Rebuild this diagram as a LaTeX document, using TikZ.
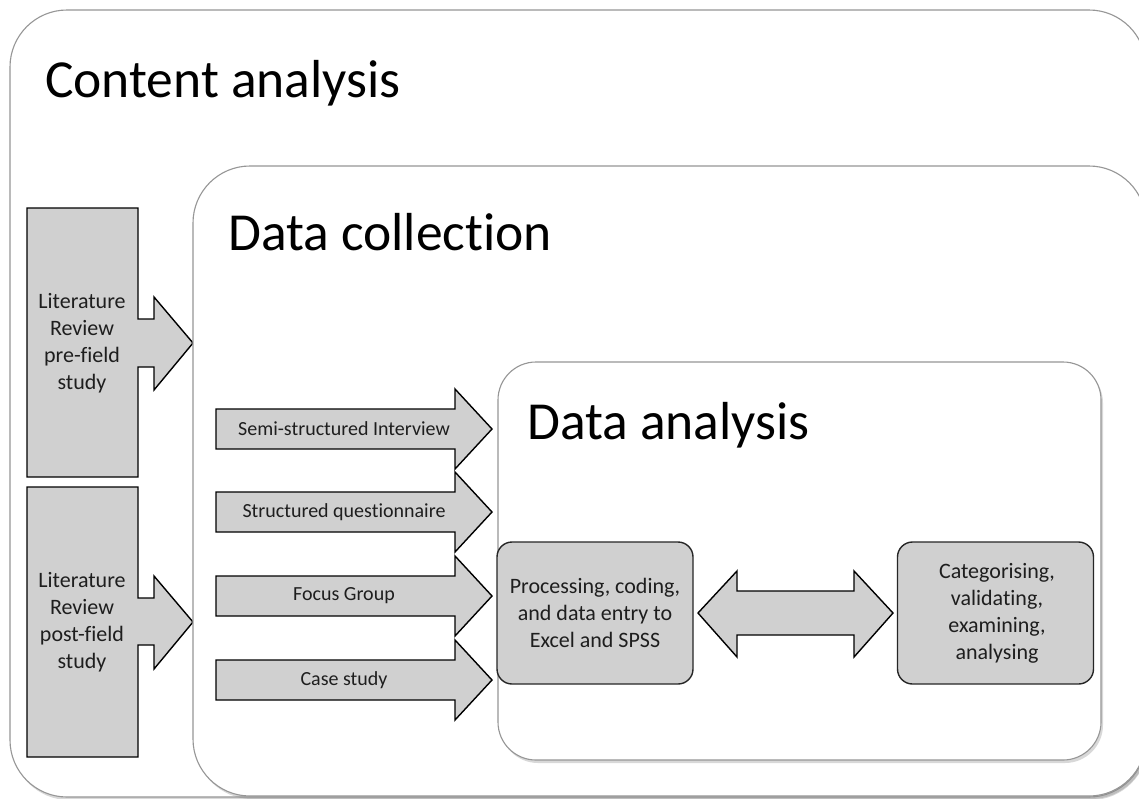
\documentclass[tikz,border=0pt]{standalone}
\usepackage{fontspec}
\setmainfont{Carlito}[Ligatures=NoCommon]
\usetikzlibrary{shadows}
\definecolor{boxgray}{RGB}{208,208,208}
\definecolor{framegray}{RGB}{150,150,150}
\definecolor{txtgray}{RGB}{30,30,30}
\begin{document}
\begin{tikzpicture}[x=1pt,y=-1pt,
  container/.style={draw=framegray, line width=1.1pt, fill=white,
    drop shadow={shadow xshift=2pt, shadow yshift=-3pt, opacity=0.3}},
  blockarrow/.style={fill=boxgray, draw=black, line width=1.4pt, line join=miter},
  procbox/.style={fill=boxgray, draw=black!85, line width=1.4pt, rounded corners=15pt,
    minimum width=196pt, minimum height=142pt, inner sep=0pt},
  title/.style={anchor=base west, font=\fontsize{53.5}{60}\selectfont, text=black, inner sep=0pt},
  smalltxt/.style={font=\fontsize{20}{24}\selectfont, text=txtgray, inner sep=0pt},
  midtxt/.style={font=\fontsize{22}{27}\selectfont, text=txtgray, align=center, inner sep=0pt}
]
\clip (0,0) rectangle (1139,798);
\fill[white] (0,0) rectangle (1139,798);

% outer container
\path[container, rounded corners=57pt] (10,10) rectangle (1146,797);
\node[title] (tca) at (45,97) {Content analysis};

% left block arrows
\path[blockarrow] (27,208) -- (138,208) -- (138,319) -- (154,319) -- (154,297)
  -- (193,343) -- (154,390) -- (154,367) -- (138,367) -- (138,477) -- (27,477) -- cycle;
\path[blockarrow] (27,487) -- (138,487) -- (138,598) -- (154,598) -- (154,576)
  -- (193,622) -- (154,669) -- (154,645) -- (138,645) -- (138,757) -- (27,757) -- cycle;
\node[midtxt] (lit1) at (82,343) {Literature\\Review\\pre-field\\study};
\node[midtxt] (lit2) at (82,622) {Literature\\Review\\post-field\\study};

% data collection container
\path[container, rounded corners=57pt] (193,166) rectangle (1146,796);
\node[title] (tdc) at (228,250) {Data collection};

% middle block arrows
\foreach \c in {429,512,596,680}{
  \path[blockarrow] (216,\c-20) -- (455,\c-20) -- (455,\c-40) -- (492,\c)
    -- (455,\c+40) -- (455,\c+20) -- (216,\c+20) -- cycle;
}
\node[smalltxt] (semi) at (344,429) {Semi-structured Interview};
\node[smalltxt] (quest) at (344,512) {Structured questionnaire};
\node[smalltxt] (focus) at (344,596) {Focus Group};
\node[smalltxt] (case) at (344,680) {Case study};

% data analysis container
\path[container, rounded corners=38pt] (498,362) rectangle (1101,760);
\node[title] (tda) at (527,439) {Data analysis};

% processing boxes
\node[procbox] (proc) at (595,613) {};
\node[midtxt] (proct) at (595,613) {Processing, coding,\\and data entry to\\Excel and SPSS};
\node[procbox] (cat) at (995.5,613) {};
\node[midtxt] (catt) at (997,613) {Categorising,\\validating,\\examining,\\analysing};

% double arrow
\path[blockarrow] (698,613) -- (737,571) -- (737,591) -- (854,591) -- (854,571)
  -- (893,613) -- (854,657) -- (854,635) -- (737,635) -- (737,657) -- cycle;
\end{tikzpicture}
\end{document}
